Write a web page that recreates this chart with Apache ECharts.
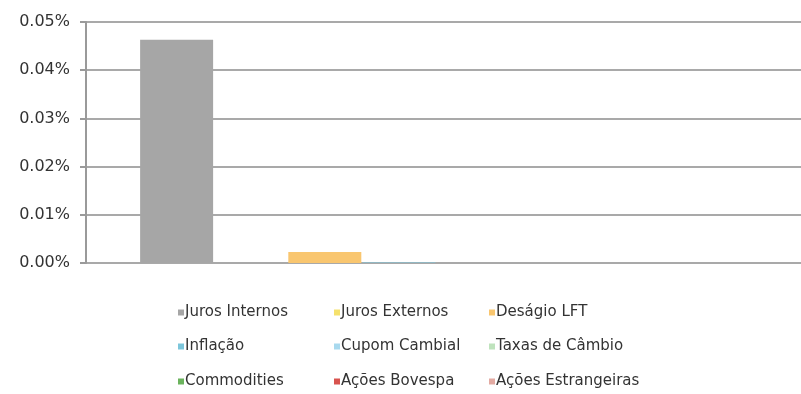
<!DOCTYPE html>
<html>
<head>
<meta charset="utf-8">
<script src="https://cdn.jsdelivr.net/npm/echarts@6/dist/echarts.min.js"></script>
<style>
  html, body { margin: 0; padding: 0; background: #fff; }
  #chart { width: 801px; height: 394px; }
</style>
</head>
<body>
<div id="chart"></div>
<script>
// dados
const categories = ['']
const seriesNames = [
  'Juros Internos', 'Juros Externos', 'Deságio LFT',
  'Inflação', 'Cupom Cambial', 'Taxas de Câmbio',
  'Commodities', 'Ações Bovespa', 'Ações Estrangeiras'
]
const seriesValues = [0.0463, 0, 0.0023, 0.0001, 0, 0, 0, 0, 0]
const yTicks = [0, 0.01, 0.02, 0.03, 0.04, 0.05]
const colors = ['#a6a6a6', '#f5e16c', '#f9c66f', '#7cc6db', '#a8d9ee', '#bfe3bd', '#6bb35d', '#d8534e', '#e3aaa2']

const chart = echarts.init(document.getElementById('chart'))

const font = 'DejaVu Sans, Arial'

// uma legenda por item, em grade 3x3
const legendCols = [178, 334, 489]
const legendRows = [305, 339, 374]
const legends = seriesNames.map((name, i) => ({
  data: [name],
  left: legendCols[i % 3],
  top: legendRows[Math.floor(i / 3)],
  itemWidth: 6,
  itemHeight: 6,
  itemGap: 0,
  icon: 'rect',
  selectedMode: false,
  padding: 0,
  textStyle: { fontFamily: font, fontSize: 15, color: '#333', padding: [0, 0, 0, -4] }
}))

chart.setOption({
  animation: false,
  color: colors,
  legend: legends,
  // o gráfico original foi cortado à direita
  grid: { left: 86, right: -59, top: 22, bottom: 131, outerBoundsMode: 'none' },
  xAxis: {
    type: 'category',
    data: categories,
    axisLine: { show: false },
    axisTick: { show: false },
    axisLabel: { show: false }
  },
  yAxis: {
    type: 'value',
    min: yTicks[0],
    max: yTicks[yTicks.length - 1],
    interval: 0.01,
    axisLine: { show: true, lineStyle: { color: '#9a9a9a', width: 2 } },
    axisTick: { show: true, length: 6, lineStyle: { color: '#9a9a9a', width: 2 } },
    axisLabel: {
      formatter: v => v.toFixed(2) + '%',
      fontFamily: font,
      fontSize: 16,
      color: '#333',
      margin: 16
    },
    splitLine: { lineStyle: { color: '#a9a9a9', width: 2 } }
  },
  series: seriesNames.map((name, i) => ({
    name: name,
    type: 'bar',
    data: [seriesValues[i]],
    barWidth: 73,
    barGap: '1.5%'
  }))
})
</script>
</body>
</html>
